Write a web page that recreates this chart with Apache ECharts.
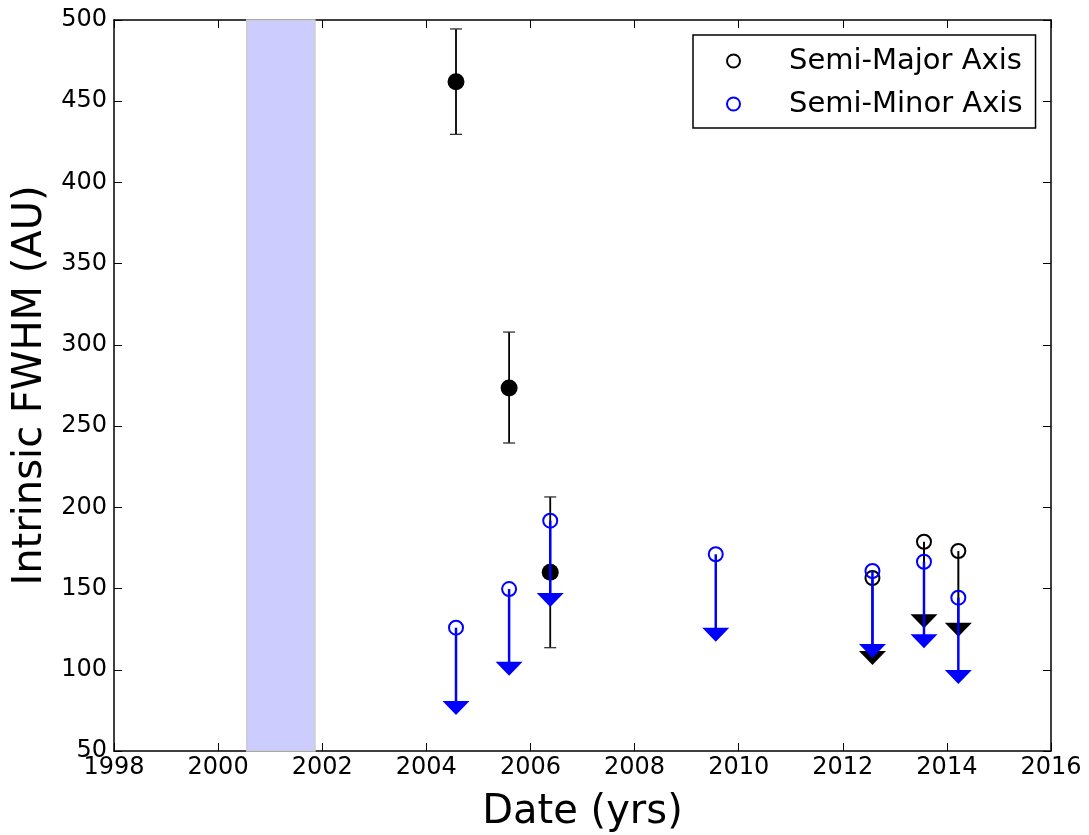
<!DOCTYPE html>
<html>
<head>
    <meta charset="utf-8">
    <title>Intrinsic FWHM</title>
    <script src="https://cdn.jsdelivr.net/npm/echarts@6/dist/echarts.min.js"></script>
</head>
<body style="margin:0">
    <div id="main" style="width: 1089px;height:835px;"></div>
    <script type="text/javascript">
        var myChart = echarts.init(document.getElementById('main'));

        // semi-major axis: detections with error bars
        var majorDetX = [2004.57, 2005.59, 2006.38];
        var majorDetY = [462, 273.5, 160];
        var majorErrLow = [429.6, 239.6, 113.6];
        var majorErrHigh = [494.5, 307.9, 206.4];
        // semi-major axis: upper limits (value, arrow tip)
        var majorLimX = [2012.57, 2013.56, 2014.22];
        var majorLimY = [156.5, 178.8, 173.1];
        var majorLimTip = [102.9, 125.5, 120.4];
        // semi-minor axis: upper limits
        var minorX = [2004.57, 2005.59, 2006.38, 2009.56, 2012.57, 2013.56, 2014.22];
        var minorY = [125.9, 149.7, 191.8, 171.1, 160.8, 166.5, 144.4];
        var minorTip = [72.2, 96.4, 138.6, 117.3, 107.2, 113.2, 91.2];
        // shaded period
        var band = [2000.55, 2001.86];

        var font = 'DejaVu Sans';

        function zip3(a, b, c) {
            return a.map(function (v, i) { return [v, b[i], c[i]]; });
        }

        function errItem(params, api) {
            var lo = api.coord([api.value(0), api.value(1)]);
            var hi = api.coord([api.value(0), api.value(2)]);
            var st = { stroke: '#000', lineWidth: 1.8 };
            var cap = { stroke: '#333', lineWidth: 1.3 };
            return {
                type: 'group', children: [
                    { type: 'line', shape: { x1: lo[0], y1: lo[1], x2: hi[0], y2: hi[1] }, style: st },
                    { type: 'line', shape: { x1: lo[0] - 6, y1: lo[1], x2: lo[0] + 6, y2: lo[1] }, style: cap },
                    { type: 'line', shape: { x1: hi[0] - 6, y1: hi[1], x2: hi[0] + 6, y2: hi[1] }, style: cap }
                ]
            };
        }

        function limItem(color, lw) {
            return function (params, api) {
                var top = api.coord([api.value(0), api.value(1)]);
                var tip = api.coord([api.value(0), api.value(2)]);
                return {
                    type: 'group', children: [
                        { type: 'line', shape: { x1: top[0], y1: top[1], x2: tip[0], y2: tip[1] - 6 }, style: { stroke: color, lineWidth: lw } },
                        { type: 'polygon', shape: { points: [[tip[0] - 13.5, tip[1] - 14], [tip[0] + 13.5, tip[1] - 14], [tip[0], tip[1]]] }, style: { fill: color } }
                    ]
                };
            };
        }

        var xAxisBase = {
            type: 'value', min: 1998, max: 2016, interval: 2,
            axisLine: { lineStyle: { color: '#000', width: 1.5 } },
            axisTick: { inside: true, length: 8, lineStyle: { color: '#000', width: 1 } },
            splitLine: { show: false }
        };
        var yAxisBase = {
            type: 'value', min: 50, max: 500, interval: 50,
            axisLine: { lineStyle: { color: '#000', width: 1.5 } },
            axisTick: { inside: true, length: 8, lineStyle: { color: '#000', width: 1 } },
            splitLine: { show: false }
        };

        var option = {
            animation: false,
            backgroundColor: '#fff',
            grid: { left: 114, right: 38, top: 20, bottom: 84, outerBoundsMode: 'none' },
            xAxis: [
                Object.assign({}, xAxisBase, {
                    position: 'bottom',
                    name: 'Date (yrs)', nameLocation: 'middle', nameGap: 42,
                    nameTextStyle: { fontFamily: font, fontSize: 40, color: '#000' },
                    axisLabel: {
                        fontFamily: font, fontSize: 24, color: '#000', margin: 5,
                        formatter: function (v) { return String(v); }
                    }
                }),
                Object.assign({}, xAxisBase, { position: 'top', axisLabel: { show: false } })
            ],
            yAxis: [
                Object.assign({}, yAxisBase, {
                    position: 'left',
                    name: 'Intrinsic FWHM (AU)', nameLocation: 'middle', nameGap: 63,
                    nameTextStyle: { fontFamily: font, fontSize: 40, color: '#000' },
                    axisLabel: { fontFamily: font, fontSize: 24, color: '#000', margin: 7 }
                }),
                Object.assign({}, yAxisBase, { position: 'right', axisLabel: { show: false } })
            ],
            legend: {
                orient: 'vertical', left: 693, top: 35,
                padding: [11, 13, 9, 33],
                itemGap: 13, itemWidth: 13, itemHeight: 13,
                borderColor: '#000', borderWidth: 1.5, borderRadius: 0,
                selectedMode: false,
                textStyle: { fontFamily: font, fontSize: 29, color: '#000', lineHeight: 30, padding: [0, 0, 0, 44] },
                data: [
                    { name: 'Semi-Major Axis', icon: 'circle', itemStyle: { color: 'transparent', borderColor: '#000', borderWidth: 2 } },
                    { name: 'Semi-Minor Axis', icon: 'circle', itemStyle: { color: 'transparent', borderColor: '#0000ff', borderWidth: 2 } }
                ]
            },
            series: [
                {
                    type: 'scatter', data: [], z: 1, silent: true,
                    markArea: {
                        silent: true,
                        itemStyle: { color: '#ccccff', borderColor: '#cccccc', borderWidth: 1.5 },
                        data: [[{ xAxis: band[0] }, { xAxis: band[1] }]]
                    }
                },
                {
                    type: 'custom', z: 2, silent: true,
                    renderItem: errItem,
                    data: zip3(majorDetX, majorErrLow, majorErrHigh)
                },
                {
                    type: 'custom', z: 2, silent: true,
                    renderItem: limItem('#000', 2),
                    data: zip3(majorLimX, majorLimY, majorLimTip)
                },
                {
                    name: 'Semi-Major Axis', type: 'scatter', z: 3,
                    symbol: 'circle', symbolSize: 17,
                    itemStyle: { color: '#000', opacity: 1 },
                    data: majorDetX.map(function (x, i) { return [x, majorDetY[i]]; })
                },
                {
                    name: 'Semi-Major Axis', type: 'scatter', z: 3,
                    symbol: 'circle', symbolSize: 14,
                    itemStyle: { color: 'transparent', borderColor: '#000', borderWidth: 2, opacity: 1 },
                    data: majorLimX.map(function (x, i) { return [x, majorLimY[i]]; })
                },
                {
                    type: 'custom', z: 4, silent: true,
                    renderItem: limItem('#0000ff', 2.5),
                    data: zip3(minorX, minorY, minorTip)
                },
                {
                    name: 'Semi-Minor Axis', type: 'scatter', z: 5,
                    symbol: 'circle', symbolSize: 14,
                    itemStyle: { color: 'transparent', borderColor: '#0000ff', borderWidth: 2, opacity: 1 },
                    data: minorX.map(function (x, i) { return [x, minorY[i]]; })
                }
            ]
        };

        myChart.setOption(option);
    </script>
</body>
</html>
